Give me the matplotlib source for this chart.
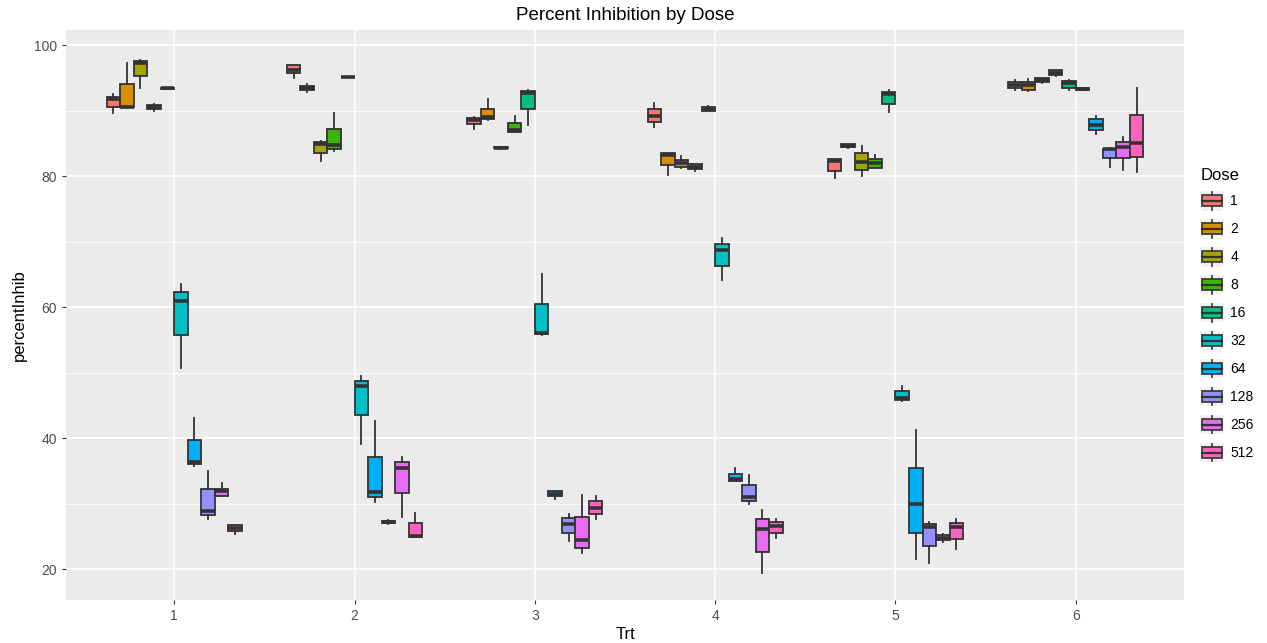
import numpy as np
import matplotlib.pyplot as plt
from matplotlib.patches import Rectangle
from matplotlib.lines import Line2D
from matplotlib.legend_handler import HandlerBase
from matplotlib.ticker import MultipleLocator

plt.rcParams['font.family'] = ['Liberation Sans', 'DejaVu Sans']

trts = [1, 2, 3, 4, 5, 6]
doses = ['1', '2', '4', '8', '16', '32', '64', '128', '256', '512']
colors = ['#F8766D', '#D89000', '#A3A500', '#39B600', '#00BF7D',
          '#00BFC4', '#00B0F6', '#9590FF', '#E76BF3', '#FF62BC']

# box statistics, [trt][dose]
whis_lo = [
    [89.6, 90.4, 93.4, 90.0, 93.3, 50.7, 35.8, 27.6, 31.1, 25.3],
    [94.9, 92.9, 82.3, 83.9, 95.1, 39.1, 30.2, 26.9, 28.0, 24.9],
    [87.2, 88.6, 84.2, 86.7, 87.8, 55.8, 30.7, 24.3, 22.4, 27.7],
    [87.5, 80.2, 81.2, 80.8, 89.9, 64.1, 33.4, 29.9, 19.4, 24.8],
    [79.7, 84.35, 80.0, 81.2, 89.8, 45.7, 21.5, 21.0, 24.2, 23.1],
    [93.1, 93.0, 94.25, 95.35, 93.1, 93.1, 86.5, 81.4, 80.9, 80.7],
]
q1 = [
    [90.6, 90.5, 95.3, 90.2, 93.35, 55.8, 36.0, 28.2, 31.2, 25.8],
    [95.7, 93.1, 83.6, 84.2, 95.12, 43.5, 31.0, 27.0, 31.6, 24.95],
    [87.9, 88.7, 84.25, 86.8, 90.2, 55.9, 31.2, 25.5, 23.3, 28.4],
    [88.3, 81.7, 81.4, 81.1, 90.0, 66.3, 33.45, 30.4, 22.6, 25.6],
    [80.8, 84.4, 81.0, 81.3, 91.0, 45.8, 25.6, 23.6, 24.5, 24.6],
    [93.5, 93.1, 94.3, 95.4, 93.5, 93.13, 87.0, 82.7, 82.7, 82.9],
]
med = [
    [91.8, 90.6, 97.2, 90.5, 93.4, 60.9, 36.3, 28.9, 31.9, 26.3],
    [96.2, 93.4, 84.9, 84.7, 95.15, 47.9, 31.8, 27.2, 35.5, 25.1],
    [88.6, 89.0, 84.3, 87.0, 92.7, 56.1, 31.5, 26.9, 24.5, 29.4],
    [89.2, 83.2, 82.0, 81.4, 90.3, 68.7, 33.7, 31.0, 26.1, 26.6],
    [82.3, 84.6, 82.2, 82.0, 92.5, 46.1, 29.9, 26.5, 24.8, 26.5],
    [93.9, 93.9, 94.6, 95.8, 94.15, 93.25, 87.8, 84.1, 84.4, 85.1],
]
q3 = [
    [92.1, 94.0, 97.6, 90.8, 93.45, 62.3, 39.7, 32.2, 32.3, 26.7],
    [96.9, 93.7, 85.2, 87.2, 95.18, 48.8, 37.2, 27.4, 36.3, 27.0],
    [88.9, 90.3, 84.4, 88.1, 93.0, 60.5, 31.9, 27.8, 27.9, 30.4],
    [90.2, 83.5, 82.4, 81.8, 90.6, 69.7, 34.5, 32.8, 27.6, 27.2],
    [82.6, 84.9, 83.5, 82.6, 92.9, 47.2, 35.5, 26.9, 25.2, 27.0],
    [94.4, 94.3, 94.9, 96.2, 94.5, 93.39, 88.7, 84.2, 85.2, 89.3],
]
whis_hi = [
    [92.5, 97.3, 97.7, 91.0, 93.5, 63.5, 43.1, 35.0, 33.2, 26.8],
    [97.0, 94.0, 85.3, 89.6, 95.2, 49.5, 42.6, 27.5, 37.1, 28.6],
    [89.0, 91.7, 84.45, 89.2, 93.1, 65.0, 32.0, 28.5, 31.3, 31.2],
    [91.2, 83.5, 83.0, 81.9, 90.7, 70.5, 35.4, 34.4, 29.0, 27.7],
    [82.6, 84.95, 84.6, 83.2, 93.1, 47.9, 41.2, 27.2, 25.3, 27.6],
    [94.7, 94.8, 94.95, 96.25, 94.6, 93.4, 89.2, 84.3, 86.0, 93.4],
]

edge = '#333333'
dodge = 0.75 / len(doses)

fig = plt.figure(figsize=(12.67, 6.43), dpi=100)
ax = fig.add_axes([66 / 1267, 43 / 643, (1184 - 66) / 1267, 570 / 643])

for j, d in enumerate(doses):
    stats = []
    pos = []
    for i, t in enumerate(trts):
        stats.append(dict(whislo=whis_lo[i][j], q1=q1[i][j], med=med[i][j],
                          q3=q3[i][j], whishi=whis_hi[i][j], fliers=[]))
        pos.append(t + (j - 4.5) * dodge)
    ax.bxp(stats, positions=pos, widths=dodge, patch_artist=True,
           showcaps=False, showfliers=False, manage_ticks=False,
           boxprops=dict(facecolor=colors[j], edgecolor=edge, linewidth=1.3),
           whiskerprops=dict(color=edge, linewidth=1.3),
           medianprops=dict(color=edge, linewidth=2.6, solid_capstyle='butt'),
           zorder=3)

ax.set_xlim(0.4, 6.6)
ax.set_ylim(15.3, 102.3)
ax.set_xticks(trts)
ax.set_xticklabels([str(t) for t in trts])
ax.yaxis.set_major_locator(MultipleLocator(20))
ax.yaxis.set_minor_locator(MultipleLocator(10))
ax.set_facecolor('#EBEBEB')
for s in ax.spines.values():
    s.set_visible(False)
ax.grid(which='major', color='white', linewidth=1.2, zorder=0)
ax.grid(which='minor', axis='y', color='white', linewidth=0.6, zorder=0)
ax.set_axisbelow(True)
ax.tick_params(axis='both', which='major', length=3, color=edge,
               labelcolor='#4D4D4D', labelsize=10)
ax.tick_params(axis='y', which='minor', length=0)

ax.set_title('Percent Inhibition by Dose', fontsize=13.5, pad=7)
ax.set_xlabel('Trt', fontsize=12, labelpad=3)
ax.set_ylabel('percentInhib', fontsize=12, labelpad=5)


class BoxKey(HandlerBase):
    def create_artists(self, legend, orig_handle, xdescent, ydescent,
                       width, height, fontsize, trans):
        x0, y0 = -xdescent, -ydescent
        c = orig_handle.get_facecolor()
        bg = Rectangle((x0, y0), width, height, fc='#F2F2F2', ec='none', transform=trans)
        box = Rectangle((x0 + 0.06 * width, y0 + 0.22 * height), 0.88 * width, 0.56 * height,
                        fc=c, ec=edge, lw=1.2, transform=trans)
        mid = Line2D([x0 + 0.06 * width, x0 + 0.94 * width], [y0 + 0.5 * height] * 2,
                     color=edge, lw=1.6, transform=trans)
        lo = Line2D([x0 + 0.5 * width] * 2, [y0 + 0.05 * height, y0 + 0.22 * height],
                    color=edge, lw=1.2, transform=trans)
        hi = Line2D([x0 + 0.5 * width] * 2, [y0 + 0.78 * height, y0 + 0.95 * height],
                    color=edge, lw=1.2, transform=trans)
        return [bg, lo, hi, box, mid]


handles = [Rectangle((0, 0), 1, 1, fc=c) for c in colors]
leg = fig.legend(handles, doses, handler_map={Rectangle: BoxKey()},
                 loc='upper left', bbox_to_anchor=(1195 / 1267, 1 - 162 / 643),
                 frameon=False, title='Dose', fontsize=10, title_fontsize=12,
                 handlelength=1.65, handleheight=1.8, labelspacing=0.6,
                 handletextpad=0.5, borderaxespad=0)
leg._legend_box.align = 'left'

fig.savefig('out.png', dpi=100)
